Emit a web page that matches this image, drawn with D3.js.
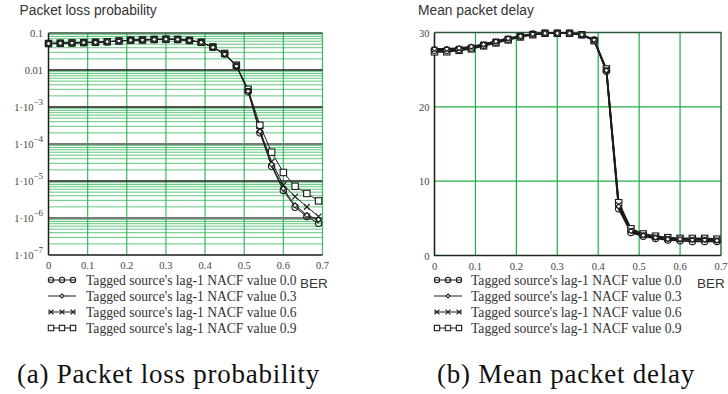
<!DOCTYPE html>
<html>
<head>
<meta charset="utf-8">
<script src="https://cdn.jsdelivr.net/npm/d3@7"></script>
<style>
  html, body { margin: 0; padding: 0; background: #fff; }
  svg { display: block; }
</style>
</head>
<body>
<svg id="chart" width="728" height="394"></svg>
<script>
// BER sample points shared by both panels
const ber = [0, 0.03, 0.06, 0.09, 0.12, 0.15, 0.18, 0.21, 0.24, 0.27, 0.30, 0.33,
             0.36, 0.39, 0.42, 0.45, 0.48, 0.51, 0.54, 0.57, 0.60, 0.63, 0.66, 0.69];

// Panel (a): packet loss probability per lag-1 NACF value
const loss00 = [0.052, 0.053, 0.054, 0.055, 0.056, 0.058, 0.061, 0.064, 0.065, 0.067, 0.068, 0.067,
                0.063, 0.056, 0.041, 0.027, 0.0128, 0.0026, 2.0e-4, 2.5e-5, 5.5e-6, 1.95e-6, 1.1e-6, 7.2e-7];
const loss03 = [0.052, 0.053, 0.054, 0.055, 0.056, 0.058, 0.061, 0.064, 0.065, 0.067, 0.068, 0.067,
                0.063, 0.056, 0.041, 0.027, 0.0128, 0.0027, 2.2e-4, 2.8e-5, 6.2e-6, 2.2e-6, 1.2e-6, 9.0e-7];
const loss06 = [0.052, 0.053, 0.054, 0.055, 0.056, 0.058, 0.061, 0.064, 0.065, 0.067, 0.068, 0.067,
                0.063, 0.056, 0.041, 0.027, 0.0130, 0.0028, 2.4e-4, 3.3e-5, 7.8e-6, 3.8e-6, 2.0e-6, 1.1e-6];
const loss09 = [0.052, 0.053, 0.054, 0.055, 0.056, 0.058, 0.061, 0.064, 0.065, 0.067, 0.068, 0.067,
                0.063, 0.056, 0.042, 0.028, 0.0135, 0.0030, 3.2e-4, 6.0e-5, 1.7e-5, 7.2e-6, 4.6e-6, 2.9e-6];

// Panel (b): mean packet delay per lag-1 NACF value
const delay00 = [27.6, 27.6, 27.7, 27.9, 28.3, 28.7, 29.1, 29.5, 29.8, 29.9, 29.9, 29.9,
                 29.7, 29.0, 24.8, 6.3, 3.1, 2.6, 2.3, 2.1, 2.0, 1.9, 1.9, 1.9];
const delay03 = [27.8, 27.8, 27.9, 28.1, 28.4, 28.8, 29.2, 29.5, 29.8, 29.9, 29.9, 29.9,
                 29.7, 29.0, 24.9, 6.6, 3.3, 2.7, 2.4, 2.2, 2.2, 2.1, 2.1, 2.0];
const delay06 = [27.7, 27.7, 27.8, 28.0, 28.4, 28.8, 29.2, 29.5, 29.8, 29.9, 29.9, 29.9,
                 29.7, 29.0, 25.0, 6.8, 3.4, 2.8, 2.5, 2.3, 2.2, 2.2, 2.2, 2.1];
const delay09 = [27.4, 27.4, 27.6, 27.8, 28.2, 28.6, 29.0, 29.4, 29.7, 29.9, 29.9, 29.9,
                 29.7, 28.9, 25.1, 7.1, 3.6, 2.9, 2.6, 2.4, 2.3, 2.3, 2.3, 2.2];

// Legend labels, marker kinds and axis ticks
const seriesNames = ["Tagged source's lag-1 NACF value 0.0", "Tagged source's lag-1 NACF value 0.3",
                     "Tagged source's lag-1 NACF value 0.6", "Tagged source's lag-1 NACF value 0.9"];
const markerKinds = ["circle", "diamond", "cross", "square"];
const xTicks = [0, 0.1, 0.2, 0.3, 0.4, 0.5, 0.6, 0.7];
const lossDecades = [-1, -2, -3, -4, -5, -6, -7];
const delayTicks = [0, 10, 20, 30];
const panelTitles = ["Packet loss probability", "Mean packet delay"];
const captions = ["(a) Packet loss probability", "(b) Mean packet delay"];

const svg = d3.select("#chart");
const SERIF = "'Liberation Serif', 'Times New Roman', serif";
const SANS = "'Liberation Sans', Arial, sans-serif";
const GREEN = "#1fae48";
const INK = "#1c1c1c";

function drawMarker(g, kind, cx, cy, s) {
  if (kind === "circle") {
    g.append("circle").attr("cx", cx).attr("cy", cy).attr("r", s)
      .attr("fill", "none").attr("stroke", INK).attr("stroke-width", 1.1);
  } else if (kind === "square") {
    g.append("rect").attr("x", cx - s).attr("y", cy - s).attr("width", 2 * s).attr("height", 2 * s)
      .attr("fill", "#fff").attr("stroke", INK).attr("stroke-width", 1.1);
  } else if (kind === "diamond") {
    const d = s * 0.8;
    g.append("path").attr("d", `M${cx},${cy - d}L${cx + d},${cy}L${cx},${cy + d}L${cx - d},${cy}Z`)
      .attr("fill", "#fff").attr("stroke", INK).attr("stroke-width", 1.1);
  } else {
    const d = s * 0.9;
    g.append("path").attr("d", `M${cx - d},${cy - d}L${cx + d},${cy + d}M${cx - d},${cy + d}L${cx + d},${cy - d}`)
      .attr("stroke", INK).attr("stroke-width", 1.2).attr("fill", "none");
  }
}

// lines of all series first, then markers stacked square → circle → cross → diamond
function drawPanelSeries(g, x, y, all, width) {
  all.forEach(vals => {
    g.append("path").attr("d", d3.line()(ber.map((b, i) => [x(b), y(vals[i])])))
      .attr("fill", "none").attr("stroke", INK).attr("stroke-width", width);
  });
  [3, 0, 2, 1].forEach(k => {
    all[k].forEach((v, i) => drawMarker(g, markerKinds[k], x(ber[i]), y(v), 3.2));
  });
}

function drawLegend(left, textX) {
  const lg = svg.append("g");
  seriesNames.forEach((name, i) => {
    const yy = 280 + i * 16;
    lg.append("line").attr("x1", left).attr("x2", left + 28).attr("y1", yy).attr("y2", yy)
      .attr("stroke", INK).attr("stroke-width", 1);
    if (markerKinds[i] === "diamond") {
      drawMarker(lg, "diamond", left + 14, yy, 2.6);
    } else {
      [left + 3, left + 14, left + 25].forEach(cx => drawMarker(lg, markerKinds[i], cx, yy, 2.7));
    }
    lg.append("text").attr("x", textX).attr("y", yy + 4.5).text(name)
      .attr("font-family", SERIF).attr("font-size", 13.6).attr("fill", "#333");
  });
}

function xAxisLabels(x, yBot) {
  svg.append("g").selectAll("text").data(xTicks).join("text")
    .attr("x", d => x(d)).attr("y", yBot + 14).attr("text-anchor", "middle")
    .attr("font-family", SERIF).attr("font-size", 10.5).attr("fill", "#444")
    .text(d => d3.format("~g")(d));
}

// ---------- Panel (a): loss probability on a log axis ----------
{
  const xA = d3.scaleLinear().domain([0, 0.7]).range([48.5, 322.5]);
  const yA = d3.scaleLog().domain([1e-7, 0.1]).range([255, 33]);
  const g = svg.append("g");

  // minor decade lines
  const minors = [];
  lossDecades.slice(0, -1).forEach(e => {
    for (let m = 2; m <= 9; m++) minors.push(m * Math.pow(10, e - 1));
  });
  g.selectAll(".minor").data(minors).join("line")
    .attr("x1", xA(0)).attr("x2", xA(0.7)).attr("y1", d => yA(d)).attr("y2", d => yA(d))
    .attr("stroke", GREEN).attr("stroke-opacity", 0.7).attr("stroke-width", 1);

  // vertical grid
  g.selectAll(".vgrid").data(xTicks.slice(1)).join("line")
    .attr("x1", d => xA(d)).attr("x2", d => xA(d)).attr("y1", yA(0.1)).attr("y2", yA(1e-7))
    .attr("stroke", GREEN).attr("stroke-opacity", 0.85).attr("stroke-width", 1.2);

  // decade lines
  const decadeColor = { "-1": "#2e4f38", "-2": "#1a1a1a", "-3": "#1a1a1a", "-4": "#7a7a7a",
                        "-5": "#1a1a1a", "-6": "#7a7a7a", "-7": "#1a1a1a" };
  g.selectAll(".decade").data(lossDecades).join("line")
    .attr("x1", xA(0)).attr("x2", xA(0.7)).attr("y1", d => yA(Math.pow(10, d))).attr("y2", d => yA(Math.pow(10, d)))
    .attr("stroke", d => decadeColor[d]).attr("stroke-width", d => (d === -4 || d === -6) ? 2.2 : 1.4);

  // left frame
  g.append("line").attr("x1", xA(0)).attr("x2", xA(0)).attr("y1", yA(0.1)).attr("y2", yA(1e-7))
    .attr("stroke", "#1a1a1a").attr("stroke-width", 1.5);

  drawPanelSeries(g, xA, yA, [loss00, loss03, loss06, loss09], 1);

  // y tick labels
  const yl = svg.append("g").attr("font-family", SERIF).attr("font-size", 10.5).attr("fill", "#444");
  lossDecades.forEach(e => {
    const t = yl.append("text").attr("x", 43).attr("y", yA(Math.pow(10, e)) + 4).attr("text-anchor", "end");
    if (e >= -2) {
      t.text(e === -1 ? "0.1" : "0.01");
    } else {
      t.append("tspan").text("1\u00B710");
      t.append("tspan").attr("dy", -6).attr("font-size", 9).text("\u2212" + (-e));
    }
  });
  xAxisLabels(xA, 255);

  svg.append("text").attr("x", 19.5).attr("y", 15).text(panelTitles[0])
    .attr("font-family", SANS).attr("font-size", 13.8).attr("fill", "#333");
  svg.append("text").attr("x", 300).attr("y", 288).text("BER")
    .attr("font-family", SANS).attr("font-size", 13.5).attr("fill", "#333");
  drawLegend(48, 86);
  svg.append("text").attr("x", 17).attr("y", 383).text(captions[0])
    .attr("font-family", SERIF).attr("font-size", 27).attr("letter-spacing", 0.75).attr("fill", "#111");
}

// ---------- Panel (b): mean packet delay on a linear axis ----------
{
  const xB = d3.scaleLinear().domain([0, 0.7]).range([434.5, 721]);
  const yB = d3.scaleLinear().domain([0, 30]).range([255.5, 32.5]);
  const g = svg.append("g");

  g.selectAll(".vgrid").data(xTicks.slice(1, -1)).join("line")
    .attr("x1", d => xB(d)).attr("x2", d => xB(d)).attr("y1", yB(30)).attr("y2", yB(0))
    .attr("stroke", GREEN).attr("stroke-width", 1.2);
  g.selectAll(".hgrid").data(delayTicks.slice(1, -1)).join("line")
    .attr("x1", xB(0)).attr("x2", xB(0.7)).attr("y1", d => yB(d)).attr("y2", d => yB(d))
    .attr("stroke", GREEN).attr("stroke-width", 1.2);
  // frame
  g.append("path").attr("d", `M${xB(0)},${yB(30)}H${xB(0.7)}V${yB(0)}`)
    .attr("fill", "none").attr("stroke", "#2b5a3a").attr("stroke-width", 1.4);
  g.append("path").attr("d", `M${xB(0)},${yB(30)}V${yB(0)}H${xB(0.7)}`)
    .attr("fill", "none").attr("stroke", "#1a2a1e").attr("stroke-width", 1.6);

  drawPanelSeries(g, xB, yB, [delay00, delay03, delay06, delay09], 1.7);

  svg.append("g").selectAll("text").data(delayTicks).join("text")
    .attr("x", 429.5).attr("y", d => yB(d) + 4).attr("text-anchor", "end")
    .attr("font-family", SERIF).attr("font-size", 10.5).attr("fill", "#444").text(d => d);
  xAxisLabels(xB, 255.5);

  svg.append("text").attr("x", 418).attr("y", 15).text(panelTitles[1])
    .attr("font-family", SANS).attr("font-size", 13.8).attr("fill", "#333");
  svg.append("text").attr("x", 697).attr("y", 288).text("BER")
    .attr("font-family", SANS).attr("font-size", 13.5).attr("fill", "#333");
  drawLegend(434, 471);
  svg.append("text").attr("x", 437).attr("y", 383).text(captions[1])
    .attr("font-family", SERIF).attr("font-size", 27).attr("letter-spacing", 0.75).attr("fill", "#111");
}
</script>
</body>
</html>
